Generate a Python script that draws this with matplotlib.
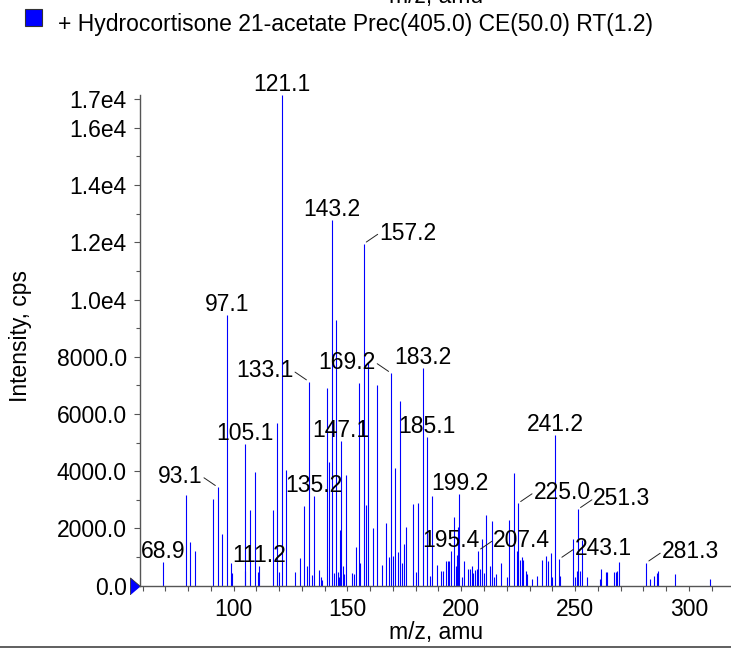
import matplotlib
matplotlib.use("Agg")
import matplotlib.pyplot as plt
from matplotlib.lines import Line2D
from matplotlib.patches import Rectangle
from matplotlib.ticker import FixedLocator, MultipleLocator

plt.rcParams['font.family'] = ['Liberation Sans', 'DejaVu Sans']

# spectrum: m/z and intensity (cps)
mz = [68.9, 79.0, 81.0, 83.1, 91.1, 93.1, 95.1, 97.1, 99.0, 99.5,
      104.9, 105.1, 107.1, 109.3, 110.9, 111.2, 117.2, 119.0, 120.1, 121.1,
      123.1, 127.1, 129.2, 131.1, 132.1, 133.1, 134.3, 135.2, 137.4, 138.6,
      139.0, 140.9, 142.1, 143.2, 144.3, 145.1, 145.8, 146.5, 146.9, 147.1,
      148.2, 148.7, 149.3, 152.2, 153.1, 153.9, 155.2, 155.7, 157.2, 158.2,
      159.2, 161.1, 163.2, 165.1, 167.1, 168.3, 169.2, 170.2, 171.1, 172.4,
      173.3, 174.1, 174.8, 175.6, 178.9, 180.3, 181.2, 183.2, 185.1, 186.2,
      187.3, 189.2, 191.3, 192.1, 193.2, 194.1, 194.8, 195.4, 197.0, 197.5,
      198.2, 198.6, 199.2, 200.4, 201.1, 203.1, 204.0, 204.9, 205.3, 206.2,
      206.9, 207.4, 208.4, 209.3, 210.2, 211.0, 212.8, 213.3, 214.5, 215.1,
      217.5, 220.0, 221.1, 223.3, 224.4, 225.0, 225.8, 226.6, 227.3, 228.5,
      229.0, 231.2, 233.2, 235.4, 237.4, 238.3, 239.3, 239.8, 241.2, 243.1,
      243.5, 249.2, 250.1, 250.7, 251.3, 252.3, 253.2, 255.4, 261.1, 261.5,
      263.5, 263.9, 267.2, 267.9, 268.6, 269.4, 281.3, 283.1, 284.6, 286.1,
      286.6, 294.0, 309.4]
intensity = [839, 3172, 1528, 1224, 3032, 3441, 1808, 9466, 783, 434,
             514, 4955, 2647, 3987, 468, 689, 2647, 5679, 468, 17130,
             4060, 490, 958, 2787, 689, 7134, 364, 3137, 549, 315,
             200, 6903, 4336, 12789, 434, 9291, 490, 315, 1948, 5060,
             689, 400, 3871, 434, 400, 1342, 7078, 780, 11949, 2822,
             7777, 2007, 7018, 724, 2182, 1000, 7428, 1040, 4105, 1190,
             6459, 783, 1458, 2042, 2857, 468, 2903, 7602, 5189, 350,
             3148, 724, 524, 524, 864, 864, 870, 1224, 2413, 700,
             1060, 2063, 3196, 300, 864, 600, 600, 700, 450, 550,
             600, 1224, 600, 1633, 450, 2473, 700, 2263, 300, 400,
             780, 300, 2298, 3931, 1213, 2881, 900, 1000, 900, 500,
             400, 250, 350, 900, 1040, 864, 1133, 300, 5270, 934,
             350, 1622, 300, 500, 2672, 500, 1598, 300, 250, 574,
             468, 468, 468, 468, 500, 818, 805, 250, 350, 450,
             500, 400, 250]

# labelled peaks and where their label sits (0 = above, -1 = left, 1 = right)
label_mz = [68.9, 93.1, 97.1, 105.1, 111.2, 121.1, 133.1, 135.2, 143.2, 147.1,
            157.2, 169.2, 183.2, 185.1, 195.4, 199.2, 207.4, 225.0, 241.2, 243.1,
            251.3, 281.3]
label_side = [0, -1, 0, 0, 0, 0, -1, 0, 0, 0,
              1, -1, 0, 0, 0, 0, 1, 1, 0, 1,
              1, 1]

y_ticks = [0, 2000, 4000, 6000, 8000, 10000, 12000, 14000, 16000, 17000]
y_minor = [1000, 3000, 5000, 7000, 9000, 11000, 13000, 15000]
legend_text = "+ Hydrocortisone 21-acetate Prec(405.0) CE(50.0) RT(1.2)"

FS = 16.5
W, H = 731, 651
fig = plt.figure(figsize=(W / 100, H / 100), dpi=100)
ax = fig.add_axes([140 / W, (H - 585.7) / H, (W - 140) / W, (585.7 - 95.5) / H])

ax.vlines(mz, 0, intensity, color='#0000ff', lw=0.8)
ax.set_xlim(58.9, 318.5)
ax.set_ylim(0, 17130)

lookup = dict(zip(mz, intensity))
for m, side in zip(label_mz, label_side):
    y = lookup[m]
    txt = f"{m:.1f}"
    if side == 0:
        ax.annotate(txt, (m, y), xytext=(0, 3), textcoords='offset points',
                    ha='center', va='baseline', fontsize=FS)
    else:
        ax.annotate(txt, (m, y), xytext=(side * 11, 3), textcoords='offset points',
                    ha='left' if side > 0 else 'right', va='baseline', fontsize=FS)
        ax.annotate('', (m, y), xytext=(side * 10, 6.8), textcoords='offset points',
                    arrowprops=dict(arrowstyle='-', color='#222222', lw=0.7,
                                    shrinkA=0, shrinkB=2.2))

for s in ['top', 'right']:
    ax.spines[s].set_visible(False)
for s in ['left', 'bottom']:
    ax.spines[s].set_color('#555555')
    ax.spines[s].set_linewidth(1.0)

ax.yaxis.set_major_locator(FixedLocator(y_ticks))
ax.yaxis.set_minor_locator(FixedLocator(y_minor))
ax.set_yticklabels([f"{v:.1f}" if v < 10000 else f"{v / 1e4:.1f}e4" for v in y_ticks])
ax.xaxis.set_major_locator(MultipleLocator(50))
ax.xaxis.set_minor_locator(MultipleLocator(10))
ax.tick_params(axis='y', which='major', length=4.5, width=0.8, color='#555555', labelsize=FS, pad=5)
ax.tick_params(axis='y', which='minor', length=3, width=0.8, color='#555555')
ax.tick_params(axis='x', which='both', length=3.6, width=0.8, color='#555555', labelsize=FS, pad=5)

# marker at zero intensity
ax.plot([0], [0], transform=ax.get_yaxis_transform(), marker=[(-10, -8.5), (-10, 8.5), (0, 0)],
        ms=14.4, mfc='#0000ff', mec='#333333', mew=0.6, clip_on=False, ls='none')

fig.text(436 / W, (H - 633) / H, "m/z, amu", ha='center', va='center', fontsize=FS)
fig.text(21 / W, (H - 336) / H, "Intensity, cps", ha='center', va='center',
         rotation=90, fontsize=FS)

# legend entry and cut-off label from the panel above
fig.add_artist(Rectangle((25 / W, (H - 26) / H), 16.7 / W, 16.7 / H,
                         facecolor='#0000ff', edgecolor='#333333', lw=0.8))
fig.text(58 / W, (H - 30.5) / H, legend_text, ha='left', va='baseline', fontsize=FS)
fig.text(436 / W, (H - 3.5) / H, "m/z, amu", ha='center', va='baseline', fontsize=FS)

fig.add_artist(Line2D([0, 1], [4 / H, 4 / H], color='#444444', lw=1.2))

fig.savefig("out.png", dpi=100)
